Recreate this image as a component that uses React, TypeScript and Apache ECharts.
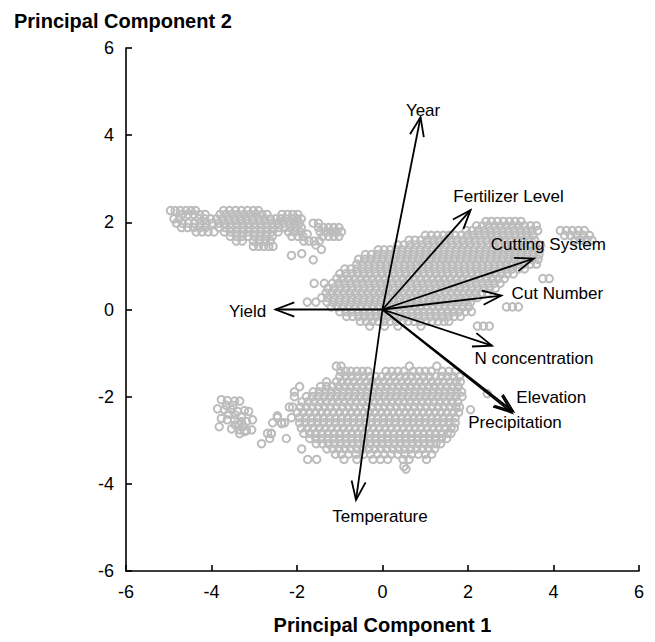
import React, { useEffect, useRef } from 'react';
import * as echarts from 'echarts';

const FONT = '"Liberation Sans", Arial, Helvetica, sans-serif';

// Axis ticks
const axisTicks = [-6, -4, -2, 0, 2, 4, 6];

// Loading vectors (PC1, PC2)
const arrowNames = ['Year', 'Fertilizer Level', 'Cutting System', 'Cut Number', 'N concentration', 'Elevation', 'Precipitation', 'Yield', 'Temperature'];
const arrowPC1 = [0.89, 2.06, 3.54, 2.78, 2.56, 3.06, 3.03, -2.5, -0.62];
const arrowPC2 = [4.41, 2.28, 1.17, 0.32, -0.83, -2.34, -2.37, 0.0, -4.37];

// Score clusters, rows of [PC2, PC1 values]
const clusterA: [number, number[]][] = [
  [2.27, [-4.96, -4.85, -4.73, -4.6, -4.48, -4.37, -3.72, -3.58, -3.44, -3.3, -3.16, -3.02, -2.9]],
  [2.18, [-4.68, -4.55, -4.42, -4.28, -4.15, -3.8, -3.66, -3.52, -3.38, -3.24, -3.1, -2.96, -2.82, -2.7, -2.35, -2.22, -2.1, -1.98]],
  [2.08, [-4.88, -4.75, -4.3, -4.16, -4.02, -3.88, -3.75, -3.6, -3.46, -3.32, -3.18, -3.04, -2.9, -2.76, -2.62, -2.5, -2.38, -2.26, -2.12, -2.0, -1.9]],
  [1.98, [-4.82, -4.68, -4.54, -4.4, -4.26, -4.12, -3.98, -3.84, -3.7, -3.56, -3.42, -3.28, -3.14, -3.0, -2.86, -2.72, -2.58, -2.45, -2.32, -2.18, -2.06, -1.94, -1.62, -1.5]],
  [1.88, [-4.7, -4.56, -4.42, -4.28, -4.14, -3.82, -3.68, -3.54, -3.4, -3.26, -3.12, -2.98, -2.84, -2.7, -2.56, -2.42, -2.28, -2.15, -2.02, -1.9, -1.5, -1.38, -1.26, -1.14, -1.02]],
  [1.78, [-4.36, -4.22, -4.08, -3.94, -3.7, -3.56, -3.42, -3.28, -3.14, -3.0, -2.86, -2.72, -2.58, -2.44, -2.2, -2.06, -1.92, -1.46, -1.32, -1.2, -1.08, -0.96]],
  [1.68, [-3.56, -3.42, -3.28, -3.14, -3.0, -2.86, -2.72, -2.58, -2.12, -1.98, -1.86, -1.4, -1.26, -1.14, -1.02]],
  [1.57, [-3.42, -3.28, -3.02, -2.88, -2.74, -2.62, -1.84, -1.72, -1.6, -1.48]],
  [1.45, [-3.02, -2.9, -2.78, -2.66, -2.56]],
];
const sparseA: number[][] = [[-2.13, 1.24], [-1.89, 1.28], [-1.62, 1.14], [-1.43, 1.38], [-1.76, 1.73], [-1.56, 1.48]];

const clusterB: [number, number[]][] = [
  [2.02, [2.42, 2.55, 2.69, 2.83, 2.97, 3.1, 3.24]],
  [1.92, [2.2, 2.34, 2.48, 2.62, 2.76, 2.9, 3.04, 3.18, 3.32, 3.46, 3.6]],
  [1.81, [1.96, 2.1, 2.24, 2.38, 2.52, 2.66, 2.8, 2.94, 3.08, 3.22, 3.36, 3.5, 3.63, 4.16, 4.3, 4.44, 4.58, 4.72]],
  [1.7, [1.0, 1.14, 1.28, 1.42, 1.56, 1.7, 1.84, 1.98, 2.12, 2.26, 2.4, 2.54, 2.68, 2.82, 2.96, 3.1, 3.24, 3.38, 3.52, 4.26, 4.4, 4.55, 4.7, 4.84]],
  [1.59, [0.62, 0.76, 0.9, 1.04, 1.18, 1.32, 1.46, 1.6, 1.74, 1.88, 2.02, 2.16, 2.3, 2.44, 2.58, 2.72, 2.86, 3.0, 3.14, 3.28, 3.42, 3.56, 4.5, 4.64, 4.78, 4.9]],
  [1.48, [0.36, 0.5, 0.64, 0.78, 0.92, 1.06, 1.2, 1.34, 1.48, 1.62, 1.76, 1.9, 2.04, 2.18, 2.32, 2.46, 2.6, 2.74, 2.88, 3.02, 3.16, 3.3, 3.44, 3.58, 3.7]],
  [1.37, [-0.1, 0.04, 0.18, 0.32, 0.46, 0.6, 0.74, 0.88, 1.02, 1.16, 1.3, 1.44, 1.58, 1.72, 1.86, 2.0, 2.14, 2.28, 2.42, 2.56, 2.7, 2.84, 2.98, 3.12, 3.26, 3.4, 3.54, 3.68]],
  [1.26, [-0.4, -0.26, -0.12, 0.02, 0.16, 0.3, 0.44, 0.58, 0.72, 0.86, 1.0, 1.14, 1.28, 1.42, 1.56, 1.7, 1.84, 1.98, 2.12, 2.26, 2.4, 2.54, 2.68, 2.82, 2.96, 3.1, 3.24, 3.38, 3.52, 3.66]],
  [1.15, [-0.56, -0.42, -0.28, -0.14, 0.0, 0.14, 0.28, 0.42, 0.56, 0.7, 0.84, 0.98, 1.12, 1.26, 1.4, 1.54, 1.68, 1.82, 1.96, 2.1, 2.24, 2.38, 2.52, 2.66, 2.8, 2.94, 3.08, 3.22, 3.36, 3.5, 3.64]],
  [1.04, [-0.6, -0.46, -0.32, -0.18, -0.04, 0.1, 0.24, 0.38, 0.52, 0.66, 0.8, 0.94, 1.08, 1.22, 1.36, 1.5, 1.64, 1.78, 1.92, 2.06, 2.2, 2.34, 2.48, 2.62, 2.76, 2.9, 3.04, 3.18, 3.32, 3.46, 3.6]],
  [0.93, [-0.88, -0.74, -0.6, -0.46, -0.32, -0.18, -0.04, 0.1, 0.24, 0.38, 0.52, 0.66, 0.8, 0.94, 1.08, 1.22, 1.36, 1.5, 1.64, 1.78, 1.92, 2.06, 2.2, 2.34, 2.48, 2.62, 2.76, 2.9, 3.04, 3.18, 3.32]],
  [0.82, [-1.0, -0.86, -0.72, -0.58, -0.44, -0.3, -0.16, -0.02, 0.12, 0.26, 0.4, 0.54, 0.68, 0.82, 0.96, 1.1, 1.24, 1.38, 1.52, 1.66, 1.8, 1.94, 2.08, 2.22, 2.36, 2.5, 2.64, 2.78, 2.92, 3.06]],
  [0.71, [-1.07, -0.93, -0.79, -0.65, -0.51, -0.37, -0.23, -0.09, 0.05, 0.19, 0.33, 0.47, 0.61, 0.75, 0.89, 1.03, 1.17, 1.31, 1.45, 1.59, 1.73, 1.87, 2.01, 2.15, 2.29, 2.43, 2.57, 2.71, 2.85, 3.75, 3.9]],
  [0.6, [-1.6, -1.36, -1.17, -1.03, -0.89, -0.75, -0.61, -0.47, -0.33, -0.19, -0.05, 0.09, 0.23, 0.37, 0.51, 0.65, 0.79, 0.93, 1.07, 1.21, 1.35, 1.49, 1.63, 1.77, 1.91, 2.05, 2.19, 2.33, 2.47, 2.61, 2.75]],
  [0.49, [-1.28, -1.14, -1.0, -0.86, -0.72, -0.58, -0.44, -0.3, -0.16, -0.02, 0.12, 0.26, 0.4, 0.54, 0.68, 0.82, 0.96, 1.1, 1.24, 1.38, 1.52, 1.66, 1.8, 1.94, 2.08, 2.22, 2.36, 2.5, 2.64]],
  [0.38, [-1.32, -1.18, -1.04, -0.9, -0.76, -0.62, -0.48, -0.34, -0.2, -0.06, 0.08, 0.22, 0.36, 0.5, 0.64, 0.78, 0.92, 1.06, 1.2, 1.34, 1.48, 1.62, 1.76, 1.9, 2.04, 2.18, 2.32, 2.46]],
  [0.27, [-1.42, -1.28, -1.14, -1.0, -0.86, -0.72, -0.58, -0.44, -0.3, -0.16, -0.02, 0.12, 0.26, 0.4, 0.54, 0.68, 0.82, 0.96, 1.1, 1.24, 1.38, 1.52, 1.66, 1.8, 1.94, 2.08, 2.22]],
  [0.17, [-1.76, -1.56, -1.3, -1.16, -1.02, -0.88, -0.74, -0.6, -0.46, -0.32, -0.18, -0.04, 0.1, 0.24, 0.38, 0.52, 0.66, 0.8, 0.94, 1.08, 1.22, 1.36, 1.5, 1.64, 1.78, 1.92, 2.06]],
  [0.06, [-1.2, -1.06, -0.92, -0.78, -0.64, -0.5, -0.36, -0.22, -0.08, 0.06, 0.2, 0.34, 0.48, 0.62, 0.76, 0.9, 1.04, 1.18, 1.32, 1.46, 1.6, 1.74, 1.88, 2.02, 2.9, 3.04, 3.18]],
  [-0.05, [-1.0, -0.86, -0.72, -0.58, -0.44, -0.3, -0.16, -0.02, 0.12, 0.26, 0.4, 0.54, 0.68, 0.82, 0.96, 1.1, 1.24, 1.38, 1.52, 1.66, 1.8, 1.94, 2.08]],
  [-0.16, [-0.84, -0.7, -0.56, -0.42, -0.28, -0.14, 0.0, 0.14, 0.28, 0.42, 0.56, 0.7, 0.84, 0.98, 1.12, 1.26, 1.4, 1.54, 1.68, 1.82]],
  [-0.27, [-0.52, -0.38, -0.24, -0.1, 0.04, 0.18, 0.32, 0.46, 0.6, 0.74, 0.88, 1.02, 1.16, 1.3, 1.44, 1.55]],
  [-0.38, [-0.3, 0.05, 0.36, 0.9, 2.22, 2.36, 2.5]],
];

const clusterC: [number, number[]][] = [
  [-1.3, [-1.08, -0.97, 0.63, 1.27]],
  [-1.42, [-0.98, -0.86, -0.74, -0.6, -0.47, -0.34, 0.08, 0.22, 0.36, 0.5, 0.72, 0.86, 1.0, 1.14, 1.4, 1.55, 1.7]],
  [-1.54, [-1.0, -0.86, -0.72, -0.58, -0.44, -0.3, -0.16, -0.02, 0.12, 0.26, 0.4, 0.54, 0.68, 0.82, 0.96, 1.1, 1.24, 1.38, 1.52, 1.66, 1.8]],
  [-1.66, [-1.31, -1.08, -0.95, -0.81, -0.67, -0.53, -0.39, -0.25, -0.11, 0.03, 0.17, 0.31, 0.45, 0.59, 0.73, 0.87, 1.01, 1.15, 1.29, 1.43, 1.57, 1.71, 1.82]],
  [-1.77, [-1.94, -1.45, -1.31, -1.17, -1.03, -0.89, -0.75, -0.61, -0.47, -0.33, -0.19, -0.05, 0.09, 0.23, 0.37, 0.51, 0.65, 0.79, 0.93, 1.07, 1.21, 1.35, 1.49, 1.63, 1.77]],
  [-1.89, [-2.06, -1.62, -1.48, -1.34, -1.2, -1.06, -0.92, -0.78, -0.64, -0.5, -0.36, -0.22, -0.08, 0.06, 0.2, 0.34, 0.48, 0.62, 0.76, 0.9, 1.04, 1.18, 1.32, 1.46, 1.6, 1.74, 1.85]],
  [-2.0, [-2.06, -1.78, -1.64, -1.5, -1.36, -1.22, -1.08, -0.94, -0.8, -0.66, -0.52, -0.38, -0.24, -0.1, 0.04, 0.18, 0.32, 0.46, 0.6, 0.74, 0.88, 1.02, 1.16, 1.3, 1.44, 1.58, 1.72, 1.86]],
  [-2.12, [-1.88, -1.74, -1.6, -1.46, -1.32, -1.18, -1.04, -0.9, -0.76, -0.62, -0.48, -0.34, -0.2, -0.06, 0.08, 0.22, 0.36, 0.5, 0.64, 0.78, 0.92, 1.06, 1.2, 1.34, 1.48, 1.62, 1.76]],
  [-2.24, [-2.18, -2.1, -1.92, -1.78, -1.64, -1.5, -1.36, -1.22, -1.08, -0.94, -0.8, -0.66, -0.52, -0.38, -0.24, -0.1, 0.04, 0.18, 0.32, 0.46, 0.6, 0.74, 0.88, 1.02, 1.16, 1.3, 1.44, 1.58, 1.72, 1.8]],
  [-2.36, [-1.99, -1.85, -1.71, -1.57, -1.43, -1.29, -1.15, -1.01, -0.87, -0.73, -0.59, -0.45, -0.31, -0.17, -0.03, 0.11, 0.25, 0.39, 0.53, 0.67, 0.81, 0.95, 1.09, 1.23, 1.37, 1.51, 1.65, 1.78]],
  [-2.48, [-2.46, -2.13, -1.94, -1.8, -1.66, -1.52, -1.38, -1.24, -1.1, -0.96, -0.82, -0.68, -0.54, -0.4, -0.26, -0.12, 0.02, 0.16, 0.3, 0.44, 0.58, 0.72, 0.86, 1.0, 1.14, 1.28, 1.42, 1.56, 1.7]],
  [-2.6, [-2.57, -2.36, -2.29, -1.94, -1.8, -1.66, -1.52, -1.38, -1.24, -1.1, -0.96, -0.82, -0.68, -0.54, -0.4, -0.26, -0.12, 0.02, 0.16, 0.3, 0.44, 0.58, 0.72, 0.86, 1.0, 1.14, 1.28, 1.42, 1.56, 1.7]],
  [-2.72, [-1.9, -1.76, -1.62, -1.48, -1.34, -1.2, -1.06, -0.92, -0.78, -0.64, -0.5, -0.36, -0.22, -0.08, 0.06, 0.2, 0.34, 0.48, 0.62, 0.76, 0.9, 1.04, 1.18, 1.32, 1.46, 1.6, 1.68]],
  [-2.84, [-2.69, -2.6, -1.84, -1.7, -1.56, -1.42, -1.28, -1.14, -1.0, -0.86, -0.72, -0.58, -0.44, -0.3, -0.16, -0.02, 0.12, 0.26, 0.4, 0.54, 0.68, 0.82, 0.96, 1.1, 1.24, 1.38, 1.52, 1.6]],
  [-2.96, [-2.64, -2.25, -1.7, -1.56, -1.42, -1.28, -1.14, -1.0, -0.86, -0.72, -0.58, -0.44, -0.3, -0.16, -0.02, 0.12, 0.26, 0.4, 0.54, 0.68, 0.82, 0.96, 1.1, 1.24, 1.38, 1.5]],
  [-3.08, [-2.83, -1.55, -1.41, -1.27, -1.13, -0.99, -0.85, -0.71, -0.57, -0.43, -0.29, -0.15, -0.01, 0.13, 0.27, 0.41, 0.55, 0.69, 0.83, 0.97, 1.11, 1.25, 1.36]],
  [-3.2, [-1.89, -1.3, -1.16, -1.02, -0.88, -0.74, -0.6, -0.46, -0.32, -0.18, -0.04, 0.1, 0.24, 0.38, 0.52, 0.66, 0.8, 0.94, 1.08, 1.22]],
  [-3.32, [-1.1, -0.96, -0.8, -0.62, -0.44, -0.28, -0.12, 0.04, 0.2, 0.36, 0.52, 0.68, 0.84, 1.0, 1.15]],
  [-3.44, [-1.75, -1.54, -0.9, -0.6, -0.22, -0.05, 0.12, 0.48, 0.62, 1.03]],
  [-3.6, [0.5]],
  [-3.66, [0.55]],
];
const sparseC: number[][] = [[2.06, -2.3], [2.45, -1.93], [-2.46, -2.44], [-2.36, -2.62], [-2.6, -2.85]];

const smallCluster: number[][] = [
  [-3.77, -2.07], [-3.63, -2.09], [-3.46, -2.1], [-3.34, -2.1],
  [-3.65, -2.2], [-3.5, -2.2],
  [-3.86, -2.28], [-3.7, -2.3], [-3.53, -2.3], [-3.39, -2.34], [-3.23, -2.32], [-3.13, -2.34],
  [-3.6, -2.4], [-3.45, -2.42], [-3.3, -2.45],
  [-3.77, -2.5], [-3.63, -2.53], [-3.46, -2.53], [-3.3, -2.57], [-3.18, -2.57], [-3.04, -2.53],
  [-3.45, -2.65], [-3.35, -2.65], [-3.25, -2.68],
  [-3.82, -2.69], [-3.53, -2.74], [-3.34, -2.76], [-3.18, -2.78], [-3.06, -2.76],
  [-3.34, -2.85], [-3.23, -2.8],
];

// Label placement (pixel offsets from arrow tip)
const labelDx = [2.5, 38, 14.5, 56, 42, 38, 3, -28, 24];
const labelDy = [-7, -14, -14, -2, 13, -14, 10, 2, 17];

const toPoints = (rows: [number, number[]][]) => rows.flatMap(([y, xs]) => xs.map((x) => [x, y]));

export default function App() {
  const ref = useRef<HTMLDivElement>(null);
  useEffect(() => {
    const chart = echarts.init(ref.current!, null, { renderer: 'svg' });
    const scatterData = [
      ...toPoints(clusterA), ...sparseA,
      ...toPoints(clusterB),
      ...toPoints(clusterC), ...sparseC, ...smallCluster,
    ];
    const arrowData = arrowNames.map((_, i) => [arrowPC1[i], arrowPC2[i], i]);
    const axisCommon = {
      type: 'value',
      min: axisTicks[0],
      max: axisTicks[axisTicks.length - 1],
      interval: 2,
      axisLine: { show: true, onZero: false, lineStyle: { color: '#000', width: 1.6 } },
      axisTick: { show: true, inside: true, length: 6, lineStyle: { color: '#000', width: 1.6 } },
      axisLabel: { color: '#000', fontSize: 18, fontFamily: FONT, margin: 12 },
      splitLine: { show: false },
    };
    chart.setOption({
      animation: false,
      grid: { left: 126, right: 16, top: 48, bottom: 71 },
      xAxis: {
        ...axisCommon,
        name: 'Principal Component 1',
        nameLocation: 'middle',
        nameGap: 44,
        nameTextStyle: { color: '#000', fontWeight: 'bold', fontSize: 20, fontFamily: FONT },
      },
      yAxis: { ...axisCommon },
      graphic: [
        {
          type: 'text', left: 14, top: 11,
          style: { text: 'Principal Component 2', fill: '#000', font: `bold 20px ${FONT}` },
        },
      ],
      series: [
        {
          type: 'scatter',
          data: scatterData,
          symbol: 'circle',
          symbolSize: 7.5,
          silent: true,
          itemStyle: { color: 'rgba(0,0,0,0)', borderColor: '#bcbcbc', borderWidth: 2, opacity: 1 },
          z: 1,
        },
        {
          type: 'custom',
          data: arrowData,
          encode: { x: 0, y: 1 },
          silent: true,
          z: 3,
          renderItem: (params: any, api: any) => {
            const i = api.value(2);
            const o = api.coord([0, 0]);
            const t = api.coord([api.value(0), api.value(1)]);
            const ang = Math.atan2(t[1] - o[1], t[0] - o[0]);
            const L = 20;
            const a = 0.36;
            const p1 = [t[0] - L * Math.cos(ang - a), t[1] - L * Math.sin(ang - a)];
            const p2 = [t[0] - L * Math.cos(ang + a), t[1] - L * Math.sin(ang + a)];
            return {
              type: 'group',
              children: [
                { type: 'line', shape: { x1: o[0], y1: o[1], x2: t[0], y2: t[1] }, style: { stroke: '#000', lineWidth: 1.8 } },
                { type: 'polyline', shape: { points: [p1, t, p2] }, style: { stroke: '#000', lineWidth: 1.8, fill: 'none' } },
                {
                  type: 'text',
                  x: t[0] + labelDx[i],
                  y: t[1] + labelDy[i],
                  style: {
                    text: arrowNames[i], fill: '#000', font: `17px ${FONT}`,
                    textAlign: 'center', textVerticalAlign: 'middle', align: 'center', verticalAlign: 'middle',
                  },
                },
              ],
            };
          },
        },
      ],
    });
    return () => chart.dispose();
  }, []);
  return <div ref={ref} style={{ position: 'fixed', left: 0, top: 0, width: 655, height: 642, background: '#fff' }} />;
}
